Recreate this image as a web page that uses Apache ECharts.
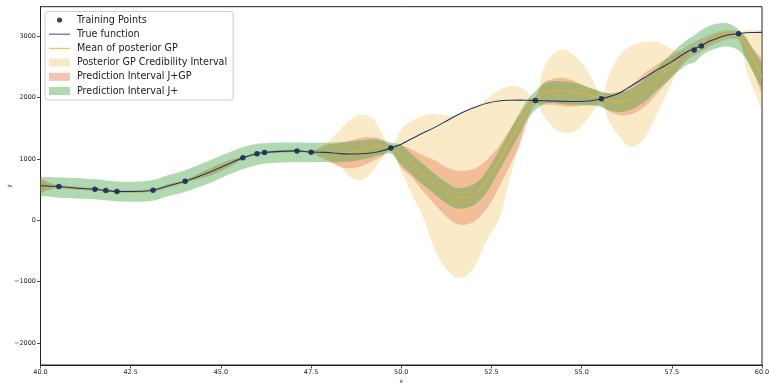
<!DOCTYPE html>
<html><head><meta charset="utf-8">
<script src="https://cdn.jsdelivr.net/npm/echarts@6/dist/echarts.min.js"></script>
<style>html,body{margin:0;padding:0;background:#fff}#c{width:769px;height:383px}</style>
</head><body><div id="c"></div>
<script>
const xs = [40.0,40.25,40.51,40.75,41.0,41.25,41.51,41.81,42.12,42.6,43.12,43.55,44.01,44.4,44.8,45.2,45.61,46.0,46.21,46.65,47.11,47.5,47.9,48.3,48.6,48.9,49.2,49.45,49.71,50.0,50.3,50.6,50.9,51.2,51.5,51.8,52.1,52.4,52.7,53.0,53.3,53.5,53.72,53.95,54.2,54.45,54.7,54.95,55.2,55.4,55.55,55.75,56.0,56.25,56.5,56.75,57.0,57.25,57.5,57.75,57.95,58.12,58.32,58.55,58.8,59.05,59.35,59.55,59.75,60.0];
const meanGP = [560,553,548,535,522,512,505,485,470,467,489,562,636,718,812,915,1014,1080,1102,1122,1130,1111,1100,1093,1110,1145,1195,1205,1175,1060,900,745,600,465,365,370,450,660,960,1270,1600,1810,1951,2060,2100,2110,2090,2070,2045,2010,1985,1940,1925,1950,2030,2130,2260,2400,2525,2650,2745,2790,2860,2940,3000,3040,3020,2860,2640,2340];
const trueFn = [563,555,548,536,523,512,506,483,467,467,489,562,636,716,810,913,1016,1082,1103,1122,1130,1109,1105,1085,1078,1082,1100,1128,1175,1240,1330,1420,1505,1600,1700,1785,1855,1910,1942,1955,1958,1955,1951,1948,1943,1938,1935,1935,1942,1960,1979,2010,2060,2145,2235,2325,2420,2500,2585,2680,2755,2795,2848,2920,2975,3020,3040,3055,3060,3062];
const credLow = [445,505,540,520,505,498,498,478,463,452,482,540,628,680,755,865,1006,1073,1095,1106,1122,1103,965,874,700,655,790,1000,1160,800,420,60,-440,-760,-930,-910,-680,-290,0,650,1310,1700,1930,1700,1520,1430,1425,1510,1680,1840,1965,1620,1400,1225,1210,1350,1620,1930,2240,2530,2700,2770,2835,2880,2950,3000,3010,2480,2150,1780];
const credHigh = [675,600,556,552,540,527,512,492,477,482,496,585,644,758,865,965,1022,1088,1110,1140,1138,1119,1245,1473,1640,1720,1660,1430,1190,1480,1620,1700,1730,1710,1700,1790,1860,1990,2120,2180,2170,2080,1975,2480,2700,2780,2730,2600,2400,2170,2000,2350,2640,2800,2870,2905,2915,2870,2790,2750,2765,2800,2870,2980,3040,3070,3045,3100,3100,3090];
const jgpLow = [440,495,522,508,495,486,482,462,447,444,466,532,612,672,745,855,990,1056,1078,1098,1106,1086,1000,870,845,880,960,1035,1125,850,700,470,275,90,-50,-70,10,210,530,880,1250,1600,1880,1880,1880,1860,1850,1860,1880,1880,1870,1780,1720,1710,1760,1850,2000,2170,2330,2500,2620,2680,2750,2830,2900,2950,2930,2650,2420,2050];
const jgpHigh = [685,612,574,562,550,538,528,508,493,490,512,592,660,765,875,975,1040,1104,1126,1146,1154,1136,1215,1262,1300,1345,1352,1320,1230,1220,1150,1060,985,880,815,810,860,1000,1200,1470,1730,1900,2015,2240,2300,2320,2290,2230,2160,2120,2090,2060,2080,2130,2260,2400,2500,2600,2680,2770,2850,2900,2960,3020,3070,3100,3080,2960,2800,2640];
const jpLow = [396,385,365,362,355,348,342,326,310,300,318,395,465,540,632,740,830,900,922,940,946,946,950,946,955,985,1030,1065,1085,905,740,580,440,295,195,200,280,490,795,1105,1430,1650,1795,1895,1910,1895,1880,1880,1870,1860,1840,1790,1765,1780,1840,1930,2070,2200,2340,2460,2540,2570,2680,2760,2810,2830,2770,2640,2420,2140];
const jpHigh = [701,705,698,694,686,676,666,646,630,626,655,735,815,905,1000,1100,1190,1245,1256,1265,1266,1262,1262,1270,1282,1300,1318,1300,1265,1225,1070,915,770,635,535,540,620,830,1125,1440,1770,1960,2105,2225,2265,2265,2250,2210,2165,2125,2095,2070,2080,2110,2190,2300,2430,2580,2720,2860,2950,3010,3100,3170,3205,3210,3110,2990,2780,2560];
const trainX = [40.51,41.51,41.81,42.12,43.12,44.01,45.61,46.0,46.21,47.11,47.5,49.71,53.72,55.55,58.12,58.32,59.35];
const trainY = [548,506,483,467,489,636,1016,1082,1103,1130,1109,1175,1951,1979,2773,2840,3039];
const xTicks = [40,42.5,45,47.5,50,52.5,55,57.5,60];
const yTicks = [-2000,-1000,0,1000,2000,3000];

const C_CRED = 'rgba(240,185,70,0.30)';
const C_JGP = 'rgba(225,90,40,0.30)';
const C_JP = 'rgba(60,160,60,0.40)';
const C_TRUE = '#1f3570';
const C_MEAN = '#f0b030';
const C_PTS = '#1a2d5a';

function band(name, lo, hi, color, z) {
  return {
    name: name, type: 'custom', coordinateSystem: 'cartesian2d', clip: true, z: z, silent: true,
    itemStyle: {color: color},
    data: [[xs[0], lo[0]]],
    renderItem: function (params, api) {
      const top = xs.map((x, i) => api.coord([x, hi[i]]));
      const bot = xs.map((x, i) => api.coord([x, lo[i]])).reverse();
      const pts = [top[0]].concat(top, [top[top.length - 1]], [bot[0]], bot, [bot[bot.length - 1]]);
      return {type: 'polygon', shape: {points: pts, smooth: 0.35}, style: {fill: color}};
    }
  };
}

const linePath = 'path://M0,0L0,0M0,3.4L21,3.4L21,4.6L0,4.6ZM21,8L21,8';
const dotPath = 'path://M0,0L0,0M21,8L21,8M7.9,4A2.6,2.6,0,1,1,13.1,4A2.6,2.6,0,1,1,7.9,4Z';
const fam = 'DejaVu Sans';

const chart = echarts.init(document.getElementById('c'), null, {renderer: 'canvas'});
chart.setOption({
  animation: false,
  backgroundColor: '#ffffff',
  grid: {left: 40.5, right: 7, top: 6.7, bottom: 18, containLabel: false, outerBoundsMode: 'none', show: true, borderColor: '#222', borderWidth: 1, backgroundColor: 'transparent'},
  xAxis: {
    type: 'value', min: 40, max: 60,
    name: 'x', nameLocation: 'middle', nameGap: 13, nameMoveOverlap: false, nameTextStyle: {fontFamily: fam, fontSize: 6, color: '#222'},
    axisLine: {show: true, onZero: false, lineStyle: {color: '#222', width: 1}},
    axisTick: {show: true, customValues: xTicks, length: 3.5, lineStyle: {color: '#222', width: 0.8}},
    axisLabel: {customValues: xTicks, formatter: v => Number(v).toFixed(1), fontFamily: fam, fontSize: 6.5, color: '#222', margin: 4},
    splitLine: {show: false}
  },
  yAxis: {
    type: 'value', min: -2360, max: 3480,
    name: 'y', nameLocation: 'middle', nameRotate: 90, nameGap: 28, nameMoveOverlap: false, nameTextStyle: {fontFamily: fam, fontSize: 6, color: '#222'},
    axisLine: {show: true, onZero: false, lineStyle: {color: '#222', width: 1}},
    axisTick: {show: true, customValues: yTicks, length: 3.5, lineStyle: {color: '#222', width: 0.8}},
    axisLabel: {customValues: yTicks, formatter: v => String(v).replace('-', '\u2212'), fontFamily: fam, fontSize: 6.5, color: '#222', margin: 4.5},
    splitLine: {show: false}
  },
  legend: {
    orient: 'vertical', left: 45, top: 11.5, itemWidth: 21, itemHeight: 8, itemGap: 2.2,
    padding: [2.5, 6, 3, 4], backgroundColor: 'rgba(255,255,255,0.85)', borderColor: '#cccccc', borderWidth: 1, borderRadius: 3,
    selectedMode: false,
    itemStyle: {borderWidth: 0},
    textStyle: {fontFamily: fam, fontSize: 9.6, color: '#222', lineHeight: 12, padding: [0, 0, 0, 2]},
    data: [
      {name: 'Training Points', icon: dotPath, itemStyle: {color: C_PTS, borderWidth: 0}},
      {name: 'True function', icon: linePath, itemStyle: {color: '#5a6a9c', borderWidth: 0}},
      {name: 'Mean of posterior GP', icon: linePath, itemStyle: {color: '#f5c14a', borderWidth: 0}},
      {name: 'Posterior GP Credibility Interval', icon: 'rect', itemStyle: {color: '#fbe9c6', borderWidth: 0}},
      {name: 'Prediction Interval J+GP', icon: 'rect', itemStyle: {color: '#f3c5b5', borderWidth: 0}},
      {name: 'Prediction Interval J+', icon: 'rect', itemStyle: {color: '#b1dab1', borderWidth: 0}}
    ]
  },
  series: [
    band('Posterior GP Credibility Interval', credLow, credHigh, C_CRED, 1),
    band('Prediction Interval J+GP', jgpLow, jgpHigh, C_JGP, 2),
    band('Prediction Interval J+', jpLow, jpHigh, C_JP, 3),
    {name: 'Mean of posterior GP', type: 'line', z: 4, showSymbol: false, symbol: 'none', smooth: 0.35, silent: true,
     lineStyle: {color: C_MEAN, width: 1}, itemStyle: {color: C_MEAN},
     data: xs.map((x, i) => [x, meanGP[i]])},
    {name: 'True function', type: 'line', z: 5, showSymbol: false, symbol: 'none', smooth: 0.35, silent: true,
     lineStyle: {color: C_TRUE, width: 1.1}, itemStyle: {color: C_TRUE},
     data: xs.map((x, i) => [x, trueFn[i]])},
    {name: 'Training Points', type: 'scatter', z: 6, symbolSize: 5.5, silent: true,
     itemStyle: {color: C_PTS, opacity: 0.9},
     data: trainX.map((x, i) => [x, trainY[i]])}
  ]
});
</script>
</body></html>
